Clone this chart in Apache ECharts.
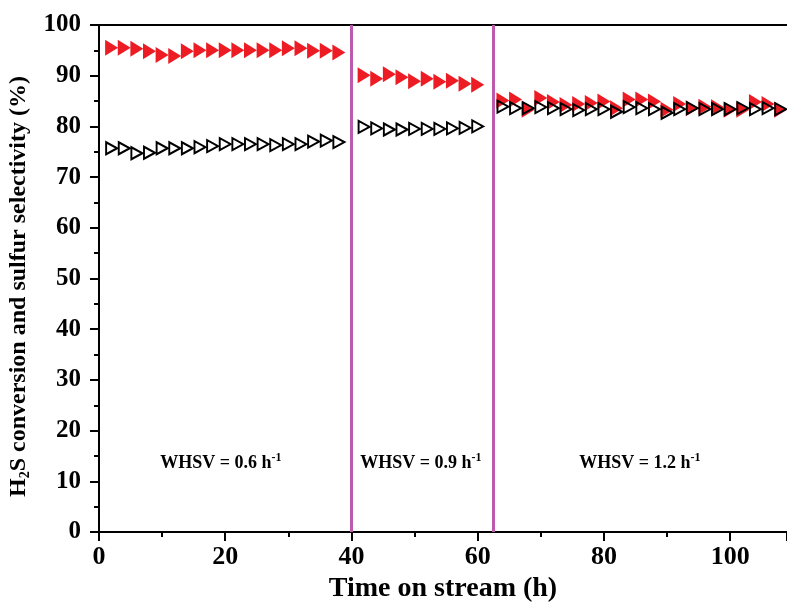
<!DOCTYPE html>
<html>
<head>
<meta charset="utf-8">
<script src="https://cdn.jsdelivr.net/npm/echarts@6/dist/echarts.min.js"></script>
<style>
html,body{margin:0;padding:0;background:#fff;}
#chart{width:787px;height:604px;}
</style>
</head>
<body>
<div id="chart"></div>
<script>
// Time on stream (h)
const timeOnStream = [2,4,6,8,10,12,14,16,18,20,22,24,26,28,30,32,34,36,38,
  42,44,46,48,50,52,54,56,58,60,
  64,66,68,70,72,74,76,78,80,82,84,86,88,90,92,94,96,98,100,102,104,106,108];
// H2S conversion (%) - red filled triangles
const h2sConversion = [95.5,95.5,95.3,94.8,94.1,93.9,94.8,95.0,95.0,95.0,95.0,95.0,95.0,95.0,95.4,95.4,94.9,94.9,94.6,
  90.1,89.4,90.3,89.7,88.9,89.4,88.8,89.0,88.4,88.2,
  85.1,85.3,83.3,85.6,84.8,84.2,84.4,84.6,84.9,83.6,85.3,85.3,84.9,83.3,84.4,83.6,83.9,83.8,83.3,83.3,84.8,84.4,83.3];
// Sulfur selectivity (%) - open black triangles
const sulfurSelectivity = [75.7,75.7,74.7,74.8,75.7,75.7,75.7,75.9,76.1,76.5,76.5,76.5,76.5,76.3,76.5,76.5,77.0,77.2,76.9,
  79.9,79.6,79.4,79.4,79.5,79.5,79.5,79.6,79.7,80.0,
  83.9,83.6,83.6,83.8,83.6,83.4,83.2,83.4,83.4,82.9,83.8,83.6,83.4,82.7,83.4,83.6,83.4,83.4,83.4,83.6,83.4,83.6,83.4];
// WHSV change points (h) and WHSV values (h^-1)
const whsvChangeTimes = [40, 62.5];
const whsvValues = ['0.6', '0.9', '1.2'];
const xTicks = [0, 20, 40, 60, 80, 100];
const yTicks = [0, 10, 20, 30, 40, 50, 60, 70, 80, 90, 100];

const FONT = '"Liberation Serif","Times New Roman",serif';
const chart = echarts.init(document.getElementById('chart'));

const conv = timeOnStream.map((t, i) => [t, h2sConversion[i]]);
const sel = timeOnStream.map((t, i) => [t, sulfurSelectivity[i]]);
// label anchors in data coordinates (annotation placement)
const labelAnchors = [[19.3, 13.6], [51, 13.6], [85.7, 13.6]];
const labelData = whsvValues.map((v, i) => ({value: labelAnchors[i], whsv: v}));

const axisStyle = {lineStyle: {color: '#000', width: 2}};

chart.setOption({
  animation: false,
  grid: {left: 99, right: 0, top: 25, bottom: 72, containLabel: false, outerBoundsMode: 'none'},
  xAxis: [{
    type: 'value', min: xTicks[0], max: 109, interval: xTicks[1] - xTicks[0],
    position: 'bottom',
    axisLine: axisStyle,
    axisTick: {show: true, length: 9, lineStyle: {width: 2, color: '#000'}},
    minorTick: {show: true, splitNumber: 2, length: 5, lineStyle: {width: 2, color: '#000'}},
    splitLine: {show: false},
    axisLabel: {margin: 12, showMaxLabel: false, color: '#000', fontFamily: FONT, fontWeight: 'bold', fontSize: 26},
    name: 'Time on stream (h)', nameLocation: 'middle', nameGap: 42,
    nameTextStyle: {color: '#000', fontFamily: FONT, fontWeight: 'bold', fontSize: 28}
  }, {
    type: 'value', min: xTicks[0], max: 109, position: 'top',
    axisLine: {show: true, onZero: false, lineStyle: {color: '#000', width: 2}},
    axisTick: {show: false}, axisLabel: {show: false}, splitLine: {show: false}
  }],
  yAxis: {
    type: 'value', min: yTicks[0], max: yTicks[yTicks.length - 1], interval: yTicks[1] - yTicks[0],
    axisLine: {show: true, lineStyle: {color: '#000', width: 2}},
    axisTick: {show: true, length: 9, lineStyle: {width: 2, color: '#000'}},
    minorTick: {show: true, splitNumber: 2, length: 5, lineStyle: {width: 2, color: '#000'}},
    splitLine: {show: false},
    axisLabel: {margin: 18, color: '#000', fontFamily: FONT, fontWeight: 'bold', fontSize: 25},
    name: '{n|H}{sub|2}{n|S conversion and sulfur selectivity (%)}',
    nameLocation: 'middle', nameGap: 66, nameRotate: 90,
    nameTextStyle: {
      color: '#000', fontFamily: FONT, fontWeight: 'bold', fontSize: 24,
      padding: [0, 16, 0, 0],
      rich: {
        n: {fontFamily: FONT, fontWeight: 'bold', fontSize: 24, color: '#000', lineHeight: 28},
        sub: {fontFamily: FONT, fontWeight: 'bold', fontSize: 14, color: '#000', verticalAlign: 'bottom', lineHeight: 28}
      }
    }
  },
  series: [{
    name: 'H2S conversion', type: 'scatter', data: conv, z: 2,
    symbol: 'triangle', symbolRotate: -90, symbolSize: [16, 13],
    itemStyle: {color: '#ED1C24', opacity: 1},
    markLine: {
      silent: true, symbol: 'none', label: {show: false},
      lineStyle: {color: '#BD5AAE', width: 3, type: 'solid', opacity: 1},
      data: whsvChangeTimes.map(t => ({xAxis: t}))
    }
  }, {
    name: 'Sulfur selectivity', type: 'scatter', data: sel, z: 3,
    symbol: 'triangle', symbolRotate: -90, symbolSize: [12, 11],
    itemStyle: {color: 'rgba(255,255,255,0)', borderColor: '#000', borderWidth: 2, opacity: 1}
  }, {
    name: 'labels', type: 'scatter', data: labelData, symbolSize: 0, silent: true, z: 4,
    itemStyle: {opacity: 1},
    label: {
      show: true, position: 'inside', color: '#000',
      formatter: p => '{b|WHSV = ' + p.data.whsv + ' h}{s|-1}',
      rich: {
        b: {fontFamily: FONT, fontWeight: 'bold', fontSize: 18, color: '#000', lineHeight: 22},
        s: {fontFamily: FONT, fontWeight: 'bold', fontSize: 12, color: '#000', verticalAlign: 'top', lineHeight: 22}
      }
    }
  }]
});
</script>
</body>
</html>
